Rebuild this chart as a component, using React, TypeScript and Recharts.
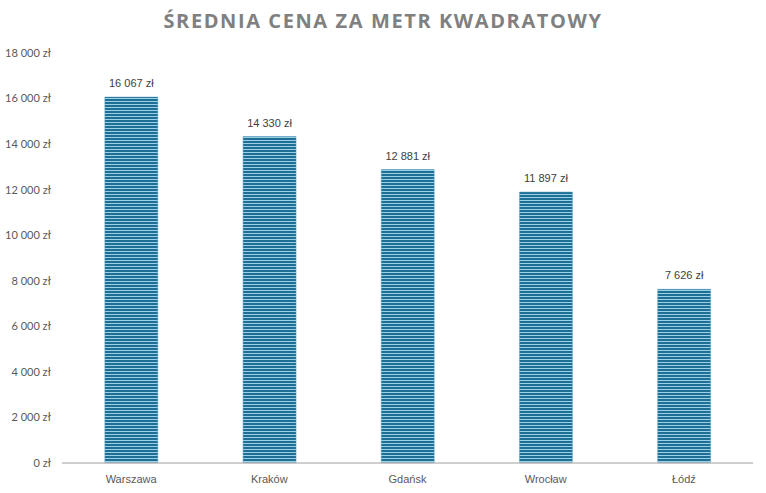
import { BarChart, Bar, XAxis, YAxis, LabelList } from 'recharts';

const cities = ['Warszawa', 'Kraków', 'Gdańsk', 'Wrocław', 'Łódź'];
const prices = [16067, 14330, 12881, 11897, 7626];
const yTicks = [0, 2000, 4000, 6000, 8000, 10000, 12000, 14000, 16000, 18000];

const data = cities.map((city, i) => ({ city, price: prices[i] }));

// "16 067 zł" style
const zl = (v: number) => `${String(v).replace(/\B(?=(\d{3})+(?!\d))/g, ' ')} zł`;

const BarValue = (props: any) => {
    const { x, y, width, value } = props;
    return (
        <text
            x={Number(x) + Number(width) / 2}
            y={Number(y) - 10}
            textAnchor="middle"
            fontSize={11}
            fill="#404040"
            fontFamily='"Liberation Sans", Arial, sans-serif'
        >
            {zl(Number(value))}
        </text>
    );
};

export default function App() {
    return (
        <div style={{ position: 'absolute', left: 0, top: 0, width: 766, height: 493, background: '#fff' }}>
            <div
                style={{
                    position: 'absolute',
                    top: 7,
                    width: '100%',
                    textAlign: 'center',
                    fontFamily: '"Open Sans", sans-serif',
                    fontWeight: 700,
                    fontSize: 20,
                    letterSpacing: 1.6,
                    color: '#808080',
                }}
            >
                ŚREDNIA CENA ZA METR KWADRATOWY
            </div>
            <BarChart
                width={766}
                height={493}
                data={data}
                margin={{ top: 53, right: 13, bottom: 0, left: 0 }}
                barCategoryGap="31%"
            >
                <defs>
                    <pattern id="stripes" width="4" height="3" patternUnits="userSpaceOnUse">
                        <rect width="4" height="3" fill="#9ad0e8" />
                        <rect width="4" height="2" fill="#1f6f94" />
                    </pattern>
                </defs>
                <XAxis
                    dataKey="city"
                    height={30}
                    axisLine={{ stroke: '#bfbfbf', strokeWidth: 1.5 }}
                    tickLine={false}
                    tickMargin={6}
                    tick={{ fontSize: 11, fill: '#595959', fontFamily: '"Liberation Sans", Arial, sans-serif' }}
                />
                <YAxis
                    width={62}
                    domain={[0, 18000]}
                    ticks={yTicks}
                    tickFormatter={zl}
                    axisLine={false}
                    tickLine={false}
                    tickMargin={5}
                    tick={{ fontSize: 11, fill: '#595959', fontFamily: 'Lato, sans-serif' }}
                />
                <Bar dataKey="price" fill="url(#stripes)" stroke="#5fa3c4" strokeWidth={0.5} isAnimationActive={false}>
                    <LabelList dataKey="price" content={BarValue} />
                </Bar>
            </BarChart>
        </div>
    );
}
